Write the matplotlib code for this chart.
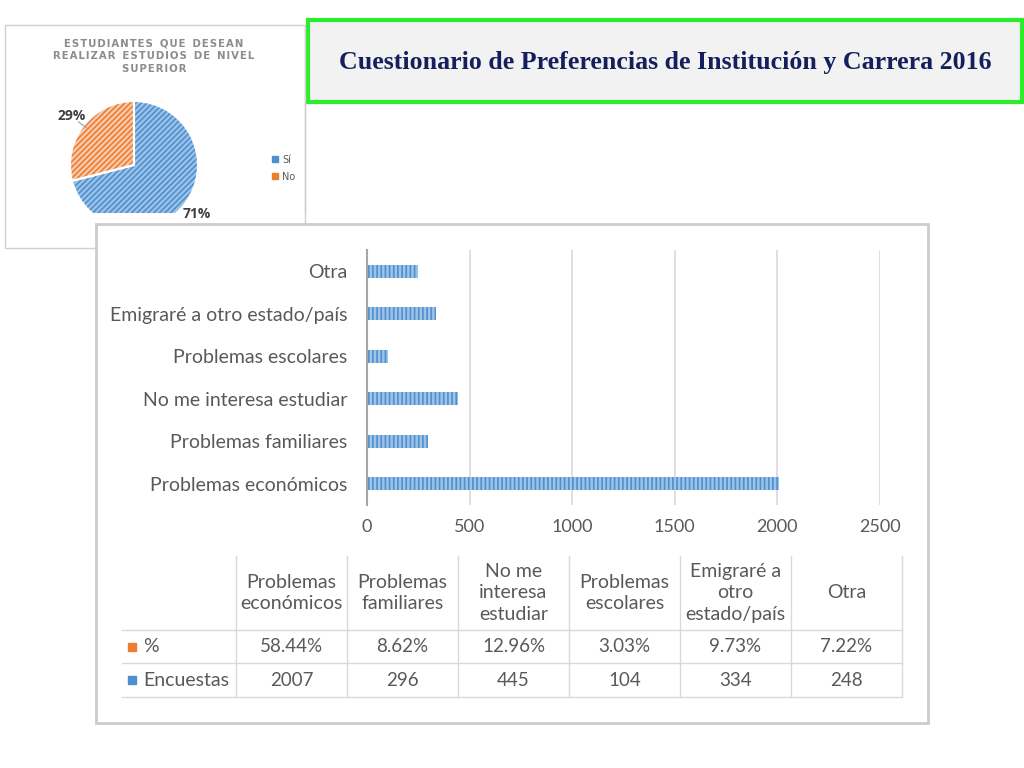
import numpy as np
import matplotlib
matplotlib.use("Agg")
import matplotlib.pyplot as plt
from matplotlib.patches import Rectangle, Patch

# --- data -----------------------------------------------------------------
categories = ["Problemas económicos", "Problemas familiares", "No me interesa estudiar",
              "Problemas escolares", "Emigraré a otro estado/país", "Otra"]
encuestas = [2007, 296, 445, 104, 334, 248]
porcentajes = ["58.44%", "8.62%", "12.96%", "3.03%", "9.73%", "7.22%"]
table_headers = ["Problemas\neconómicos", "Problemas\nfamiliares", "No me\ninteresa\nestudiar",
                 "Problemas\nescolares", "Emigraré a\notro\nestado/país", "Otra"]
row_labels = ["%", "Encuestas"]
x_ticks = [0, 500, 1000, 1500, 2000, 2500]

pie_labels = ["Sí", "No"]
pie_values = [71, 29]
pie_title = ["ESTUDIANTES QUE DESEAN", "REALIZAR ESTUDIOS DE NIVEL", "SUPERIOR"]
slide_title = "Cuestionario de Preferencias de Institución y Carrera 2016"

BLUE, BLUE_D = "#9dc3e6", "#4f8fd0"
ORANGE, ORANGE_D = "#f8cbad", "#ed7d31"
GRAY_TXT = "#595959"
LINE = "#d9d9d9"
FONT = "Lato"

W, H = 1024, 768
plt.rcParams["hatch.linewidth"] = 1.2
fig = plt.figure(figsize=(W / 100, H / 100), dpi=100)


def px_axes(x0, y0, x1, y1):
    """Axes placed by pixel box (top-left origin)."""
    return fig.add_axes([x0 / W, 1 - y1 / H, (x1 - x0) / W, (y1 - y0) / H])


def spaced(s):
    # wide letter spacing like the pasted Excel title
    return "  ".join("\u200a".join(word) for word in s.split(" "))


# background layer: pie panel frame and green title box
bg = px_axes(0, 0, W, H)
bg.set_xlim(0, W)
bg.set_ylim(H, 0)
bg.axis("off")
bg.add_patch(Rectangle((5, 25), 300, 223, facecolor="white", edgecolor="#d0d0d0", lw=1))
bg.plot([305, 305], [25, 213], color="#d0d0d0", lw=1)
bg.add_patch(Rectangle((308, 20), 714, 82, facecolor="#f2f2f2", edgecolor="#2bee2b", lw=3))
bg.text(665, 62, slide_title, family="Liberation Serif", weight="bold", size=18.6,
        color="#141f5c", ha="center", va="center")
bg.text(154, 56, "\n".join(spaced(s) for s in pie_title), family="DejaVu Sans",
        weight="bold", size=7.3, color="#8c8c8c", ha="center", va="center", linespacing=1.35)

# pie (clipped at the bottom like the pasted picture)
pax = px_axes(5, 25, 305, 213)
cx, cy, r = 134, H - 165, 64
wedges, _ = pax.pie(pie_values, colors=["white", "white"], startangle=90, counterclock=False,
                    center=(cx, cy), radius=r, frame=True,
                    wedgeprops=dict(lw=0))
for w, fc, hc in zip(wedges, [BLUE, ORANGE], [BLUE_D, ORANGE_D]):
    w.set_facecolor(fc)
    w.set_edgecolor(hc)
    w.set_hatch("//////")
    w.set_clip_on(True)
outl, _ = pax.pie(pie_values, colors=["none", "none"], startangle=90, counterclock=False,
                  center=(cx, cy), radius=r, frame=True,
                  wedgeprops=dict(lw=1.5, edgecolor="white"))
for w in outl:
    w.set_clip_on(True)
pax.set_xlim(5, 305)
pax.set_ylim(H - 213, H - 25)
pax.set_aspect("auto")
pax.axis("off")
for w, v in zip(wedges, pie_values):
    mid = np.deg2rad((w.theta1 + w.theta2) / 2)
    pax.text(cx + 1.24 * r * np.cos(mid), cy + 1.24 * r * np.sin(mid), f"{v}%",
             family="Open Sans", weight="bold", size=10, color="#404040",
             ha="center", va="center", clip_on=False)
mid_no = np.deg2rad((wedges[1].theta1 + wedges[1].theta2) / 2)
pax.plot([cx + 1.10 * r * np.cos(mid_no), cx + 1.02 * r * np.cos(mid_no) + 4],
         [cy + 1.10 * r * np.sin(mid_no), cy + 0.95 * r * np.sin(mid_no)],
         color="#a0a0a0", lw=0.8)
pax.legend(handles=[Patch(color=BLUE_D), Patch(color=ORANGE_D)], labels=pie_labels,
           loc="upper left", bbox_to_anchor=(263, H - 146), bbox_transform=pax.transData,
           frameon=False, fontsize=7, handlelength=0.6, handleheight=0.6,
           handletextpad=0.5, labelspacing=0.7, labelcolor=GRAY_TXT)

# panel layer: white chart panel and data table
tab = px_axes(0, 0, W, H)
tab.set_xlim(0, W)
tab.set_ylim(H, 0)
tab.axis("off")
tab.add_patch(Rectangle((96, 224), 832, 499, facecolor="white", edgecolor="#cccccc", lw=2))

col0, col_w = 236, 111
row_top, row_edges = 556, [630, 663, 697]
for i in range(len(categories) + 1):
    x = col0 + i * col_w
    tab.plot([x, x], [row_top, row_edges[-1]], color=LINE, lw=1)
for y in row_edges:
    tab.plot([122, col0 + len(categories) * col_w], [y, y], color=LINE, lw=1)
for i, (hdr, pct, n) in enumerate(zip(table_headers, porcentajes, encuestas)):
    xc = col0 + (i + 0.5) * col_w
    tab.text(xc, (row_top + row_edges[0]) / 2, hdr, ha="center", va="center",
             family=FONT, size=14, color=GRAY_TXT, linespacing=1.3)
    tab.text(xc, (row_edges[0] + row_edges[1]) / 2, pct, ha="center", va="center",
             family=FONT, size=13.5, color=GRAY_TXT)
    tab.text(xc, (row_edges[1] + row_edges[2]) / 2, str(n), ha="center", va="center",
             family=FONT, size=13.5, color=GRAY_TXT)
for j, (lab, mc) in enumerate(zip(row_labels, [ORANGE_D, BLUE_D])):
    yc = (row_edges[j] + row_edges[j + 1]) / 2
    tab.plot(132, yc, marker="s", ms=6, color=mc, ls="none")
    tab.text(143, yc, lab, ha="left", va="center", family=FONT, size=14, color=GRAY_TXT)

# bar chart
ax = px_axes(367, 250, 880, 505)
ax.set_facecolor("none")
y = np.arange(len(categories))
ax.barh(y, encuestas, height=0.3, color=BLUE, edgecolor=BLUE_D, hatch="||||", lw=0, zorder=3)
ax.set_xlim(0, 2500)
ax.set_ylim(-0.5, len(categories) - 0.5)
ax.set_xticks(x_ticks)
ax.set_yticks(y)
ax.set_yticklabels(categories)
ax.grid(axis="x", color=LINE, lw=1.2, zorder=0)
for s in ["top", "right", "bottom"]:
    ax.spines[s].set_visible(False)
ax.spines["left"].set_color("#a6a6a6")
ax.spines["left"].set_linewidth(1.5)
ax.spines["left"].set_zorder(4)
ax.tick_params(axis="both", length=0, labelcolor=GRAY_TXT, labelsize=13)
ax.tick_params(axis="y", pad=14, labelsize=14)
ax.tick_params(axis="x", pad=10)
for t in ax.get_xticklabels() + ax.get_yticklabels():
    t.set_family(FONT)

fig.savefig("out.png", dpi=100)
